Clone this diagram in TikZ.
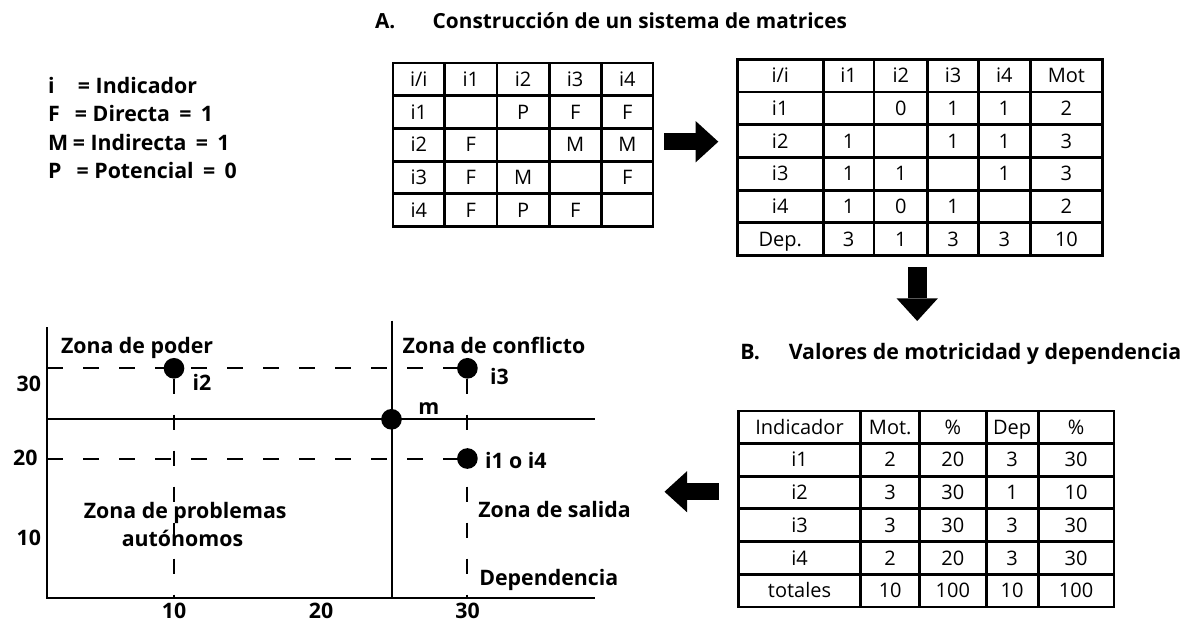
\documentclass[tikz,border=0pt]{standalone}
\usepackage{fontspec}
\setmainfont{Open Sans}
\usetikzlibrary{arrows.meta,matrix}
\begin{document}
\begin{tikzpicture}[x=0.75pt,y=-0.75pt,
  lbl/.style={font=\bfseries\fontsize{16}{19}\selectfont, inner sep=0pt, outer sep=0pt},
  tbl/.style={matrix of nodes, nodes in empty cells, row sep=0pt, column sep=0pt,
     inner sep=0pt, outer sep=0pt, draw, line width=1.6pt,
     nodes={draw, line width=1.1pt, anchor=center, outer sep=0pt, inner sep=0pt,
        text height=10.7pt, text depth=0pt, font=\fontsize{15}{17}\selectfont}},
  axisline/.style={line width=1.5pt},
  dashline/.style={line width=1.5pt, dash pattern=on 11.5pt off 15.5pt},
  blackdot/.style={circle, fill=black, inner sep=0pt, minimum size=15.5pt},
  bigarrow/.style={line width=13pt, -{Triangle[width=31pt,length=17pt,line width=0pt]}}
]
\useasboundingbox (0,0) rectangle (1195,622);

% titles and legend
\node[lbl, font=\bfseries\fontsize{15.6}{19}\selectfont, anchor=base west] (titA) at (375,28.3) {A.\hspace{28.1pt}Construcción de un sistema de matrices};
\node[lbl, anchor=base west] (titB) at (740.4,359.2) {B.\hspace{21.6pt}Valores de motricidad y dependencia};
\node[lbl, anchor=base west] (leg1) at (48,93.4) {\makebox[22.5pt][l]{i}= Indicador};
\node[lbl, anchor=base west] (leg2) at (48,121.7) {\makebox[20.25pt][l]{F}= Directa\hspace{7pt}=\hspace{7pt}1};
\node[lbl, anchor=base west] (leg3) at (48,150) {\makebox[18.6pt][l]{M}= Indirecta\hspace{7pt}=\hspace{7pt}1};
\node[lbl, anchor=base west] (leg4) at (48,178.3) {\makebox[21.5pt][l]{P}= Potencial\hspace{7pt}=\hspace{7pt}0};

% table 1
\matrix (tA) [tbl, anchor=north west, nodes={minimum width=38pt, minimum height=23.5pt}] at (392.7,62.7) {
i/i & i1 & i2 & i3 & i4 \\
i1 & & P & F & F \\
i2 & F & & M & M \\
i3 & F & M & & F \\
i4 & F & P & F & \\
};

% table 2
\matrix (tB) [tbl, anchor=north west, nodes={minimum height=23.42pt},
  column 1/.style={nodes={minimum width=63.3pt}},
  column 2/.style={nodes={minimum width=37pt}},
  column 3/.style={nodes={minimum width=39.2pt}},
  column 4/.style={nodes={minimum width=37.05pt}},
  column 5/.style={nodes={minimum width=37.5pt}},
  column 6/.style={nodes={minimum width=53.5pt}}] at (737.3,59.3) {
i/i & i1 & i2 & i3 & i4 & Mot \\
i1 & & 0 & 1 & 1 & 2 \\
i2 & 1 & & 1 & 1 & 3 \\
i3 & 1 & 1 & & 1 & 3 \\
i4 & 1 & 0 & 1 & & 2 \\
Dep. & 3 & 1 & 3 & 3 & 10 \\
};

% table 3
\matrix (tC) [tbl, anchor=north west, nodes={minimum height=23.45pt},
  column 1/.style={nodes={minimum width=90.75pt}},
  column 2/.style={nodes={minimum width=43.05pt}},
  column 3/.style={nodes={minimum width=48.75pt}},
  column 4/.style={nodes={minimum width=37.95pt}},
  column 5/.style={nodes={minimum width=55.8pt}}] at (738.3,410.7) {
Indicador & Mot. & \% & Dep & \% \\
i1 & 2 & 20 & 3 & 30 \\
i2 & 3 & 30 & 1 & 10 \\
i3 & 3 & 30 & 3 & 30 \\
i4 & 2 & 20 & 3 & 30 \\
totales & 10 & 100 & 10 & 100 \\
};

% big arrows
\coordinate (ar1s) at (664.3,141.7);
\coordinate (ar1e) at (718.3,141.7);
\coordinate (ar2s) at (917.2,267.3);
\coordinate (ar2e) at (917.2,321);
\coordinate (ar3s) at (718.8,491.7);
\coordinate (ar3e) at (664.5,491.7);
\draw[bigarrow] (ar1s) -- (ar1e);
\draw[bigarrow, line width=14.5pt] (ar2s) -- (ar2e);
\draw[bigarrow] (ar3s) -- (ar3e);

% chart
\coordinate (O) at (47.4,598.3);
\coordinate (ytop) at (47.4,327.3);
\coordinate (xend) at (595,598.3);
\coordinate (vtop) at (391.5,320.7);
\coordinate (vbot) at (391.5,598.3);
\coordinate (hl) at (47.4,419.3);
\coordinate (hr) at (595,419.3);
\coordinate (d30) at (47.4,368.3);
\coordinate (d20) at (47.4,458.5);
\coordinate (x10) at (174,598.3);
\coordinate (x30) at (467.4,598.3);
\coordinate (pi2) at (174,368.3);
\coordinate (pi3) at (467.4,368.3);
\coordinate (pm) at (391.5,419.3);
\coordinate (pi14) at (467.4,458.5);

\draw[dashline] (d30) -- (pi3);
\draw[dashline] (d20) -- (pi14);
\draw[dashline] ([yshift=-7.75pt]pi2) -- (x10);
\draw[dashline] ([yshift=-7.75pt]pi3) -- (x30);
\draw[axisline] (ytop) -- (O) -- (xend);
\draw[axisline] (vtop) -- (vbot);
\draw[axisline] (hl) -- (hr);
\node[blackdot] (di2) at (pi2) {};
\node[blackdot] (di3) at (pi3) {};
\node[blackdot] (dm) at (pm) {};
\node[blackdot] (di14) at (pi14) {};

\node[lbl, anchor=base west] (zpoder) at (61,353.5) {Zona de poder};
\node[lbl, anchor=base west] (zconf) at (402.7,353.5) {Zona de conflicto};
\node[lbl, anchor=base west] (li2) at (192.7,390) {i2};
\node[lbl, anchor=base west] (li3) at (490,384) {i3};
\node[lbl, anchor=base west] (lm) at (418.3,414.3) {m};
\node[lbl, anchor=base west] (li14) at (485,468.3) {i1 o i4};
\node[lbl, anchor=base west] (zsal) at (478.3,517.3) {Zona de salida};
\node[lbl, anchor=base west] (zdep) at (479.3,585) {Dependencia};
\node[lbl, anchor=base west] (zprob) at (83.8,518.3) {Zona de problemas};
\node[lbl, anchor=base west] (zaut) at (121.8,546.7) {autónomos};
\node[lbl, anchor=base east] (t30) at (41,391.7) {30};
\node[lbl, anchor=base east] (t20) at (37.6,465) {20};
\node[lbl, anchor=base east] (t10) at (41,545) {10};
\node[lbl, anchor=base] (tx10) at (174,618.3) {10};
\node[lbl, anchor=base] (tx20) at (321,618.3) {20};
\node[lbl, anchor=base] (tx30) at (467.5,618.3) {30};
\end{tikzpicture}
\end{document}
